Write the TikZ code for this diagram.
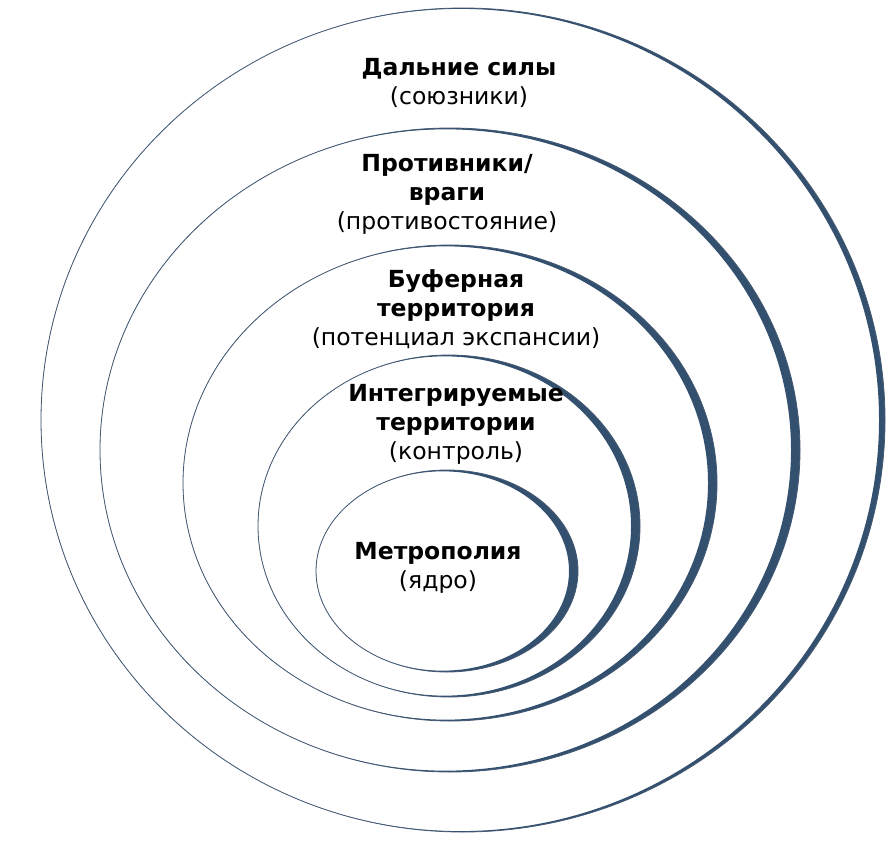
\documentclass[tikz,border=0pt]{standalone}
\usepackage{fontspec}
\setmainfont{DejaVu Sans}
\definecolor{ring}{HTML}{34506F}
\tikzset{x=1pt,y=-1pt,
  lbl/.style={align=center,font=\fontsize{23.5}{29}\selectfont,inner sep=0pt},
  ringline/.style={draw=ring!80!gray,line width=0.8pt}}
\newcommand{\myring}[5]{% cx cy rx ry d
  \fill[ring,even odd rule] (#1,#2) ellipse [x radius=#3,y radius=#4]
     (#1-#5,#2) ellipse [x radius=#3-#5,y radius=#4-0.3*#5];
  \draw[ringline] (#1,#2) ellipse [x radius=#3,y radius=#4];}
\begin{document}
\begin{tikzpicture}
\useasboundingbox (0,0) rectangle (890,840);
\myring{463}{420}{422}{412}{3}
\myring{450}{450}{350}{322}{4.5}
\myring{450}{483}{267}{238}{4.5}
\myring{449}{526}{191}{171}{4.5}
\myring{447}{571}{131}{101}{4.5}
\node[lbl] (t1) at (459,83) {\textbf{Дальние силы}\\(союзники)};
\node[lbl] (t2) at (447,194) {\textbf{Противники/}\\\textbf{враги}\\(противостояние)};
\node[lbl] (t3) at (456,309) {\textbf{Буферная}\\\textbf{территория}\\(потенциал экспансии)};
\node[lbl] (t4) at (456,424) {\textbf{Интегрируемые}\\\textbf{территории}\\(контроль)};
\node[lbl] (t5) at (438,568) {\textbf{Метрополия}\\(ядро)};
\end{tikzpicture}
\end{document}
